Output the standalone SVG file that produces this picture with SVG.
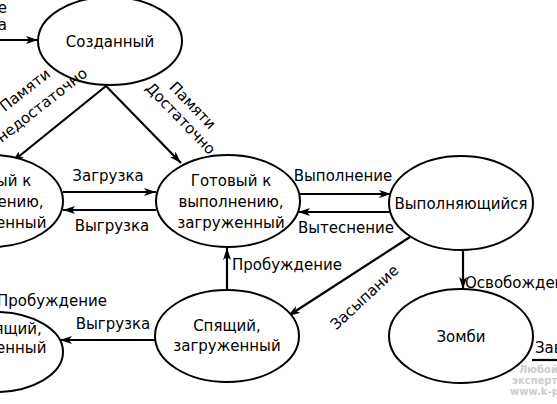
<svg xmlns="http://www.w3.org/2000/svg" width="557" height="404" viewBox="0 0 557 404">
<defs>
<style>
.n ellipse{fill:#fff;stroke:#000;stroke-width:2}
text{font-family:"DejaVu Sans","Liberation Sans",sans-serif;font-size:15px;fill:#000}
.c text{text-anchor:middle}
.n text{text-anchor:middle}
.e line{stroke:#000;stroke-width:2.2}
.a{marker-end:url(#ah)}
.wm{fill:#cccccc;font-size:10px;font-weight:bold}
</style>
<marker id="ah" viewBox="0 0 12 8" refX="12" refY="4" markerWidth="12" markerHeight="8" markerUnits="userSpaceOnUse" orient="auto">
<path d="M0,0 L12,4 L0,8 L3,4 z" fill="#000"/>
</marker>
</defs>
<rect width="557" height="404" fill="#fff"/>
<g id="connectors" class="e">
<line class="a" x1="0" y1="40" x2="38" y2="40"/>
<line class="a" x1="106" y1="86" x2="12" y2="162"/>
<line class="a" x1="106" y1="86" x2="181" y2="163"/>
<line class="a" x1="63" y1="192" x2="156" y2="192"/>
<line class="a" x1="156" y1="210" x2="63" y2="210"/>
<line class="a" x1="298" y1="194" x2="391" y2="194"/>
<line class="a" x1="391" y1="212" x2="298" y2="212"/>
<line class="a" x1="227" y1="290" x2="227" y2="248"/>
<line class="a" x1="410" y1="237" x2="288" y2="316"/>
<line class="a" x1="463" y1="250" x2="463" y2="289"/>
<line class="a" x1="155" y1="340" x2="60" y2="340"/>
<line x1="532" y1="360" x2="557" y2="360"/>
</g>
<g id="n-created" class="n">
<ellipse cx="110" cy="41" rx="72" ry="44"/>
<text x="110" y="47">Созданный</text>
</g>
<g id="n-ready-swapped" class="n">
<ellipse cx="-9" cy="201" rx="72" ry="46"/>
<text x="-9" y="186">Готовый к</text>
<text x="-9" y="207">выполнению,</text>
<text x="-9" y="228">выгруженный</text>
</g>
<g id="n-ready" class="n">
<ellipse cx="228" cy="201" rx="72" ry="46"/>
<text x="231" y="186">Готовый к</text>
<text x="231" y="207">выполнению,</text>
<text x="231" y="228">загруженный</text>
</g>
<g id="n-running" class="n">
<ellipse cx="461" cy="203" rx="72" ry="47"/>
<text x="461" y="209">Выполняющийся</text>
</g>
<g id="n-sleep-swapped" class="n">
<ellipse cx="-5" cy="352" rx="68" ry="40"/>
<text x="8" y="334">Спящий,</text>
<text x="-9" y="353">выгруженный</text>
</g>
<g id="n-sleep" class="n">
<ellipse cx="227" cy="336" rx="72" ry="46"/>
<text x="227" y="331">Спящий,</text>
<text x="227" y="351">загруженный</text>
</g>
<g id="n-zombie" class="n">
<ellipse cx="461" cy="336" rx="72" ry="47"/>
<text x="461" y="342">Зомби</text>
</g>
<g id="labels" class="c">
<text x="7" y="13" style="text-anchor:end">Создание</text>
<text x="7" y="30" style="text-anchor:end">процесса</text>
<text transform="translate(28,94) rotate(-38)">Памяти</text>
<text transform="translate(45,109) rotate(-38)">недостаточно</text>
<text transform="translate(189,109) rotate(46)">Памяти</text>
<text transform="translate(177,122) rotate(46)">Достаточно</text>
<text x="108" y="181">Загрузка</text>
<text x="112" y="231">Выгрузка</text>
<text x="343" y="181">Выполнение</text>
<text x="346" y="233">Вытеснение</text>
<text x="232" y="270" style="text-anchor:start">Пробуждение</text>
<text transform="translate(368,301) rotate(-43)">Засыпание</text>
<text x="465" y="288" style="text-anchor:start">Освобождение</text>
<text x="-3" y="306" style="text-anchor:start">Пробуждение</text>
<text x="113" y="329">Выгрузка</text>
<text x="535" y="353" style="text-anchor:start">Завершение</text>
</g>
<g id="watermark">
<text class="wm" x="519" y="373">Любой</text>
<text class="wm" x="512" y="384">эксперт</text>
<text class="wm" x="510" y="395">www.k-press.ru</text>
</g>
</svg>
